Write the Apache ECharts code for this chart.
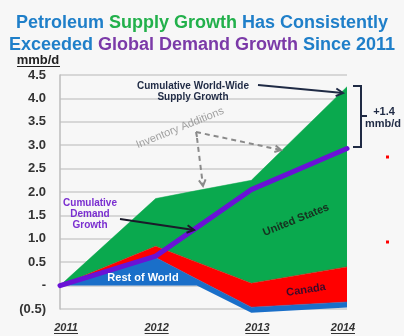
<!DOCTYPE html>
<html><head><meta charset="utf-8">
<script src="https://cdn.jsdelivr.net/npm/echarts@6/dist/echarts.min.js"></script>
<style>html,body{margin:0;padding:0;background:#f7f7f7}#c{width:404px;height:336px}</style>
</head><body><div id="c"></div>
<script>
// ---- data (mmb/d) ----
const years = [2011, 2012, 2012.43, 2013, 2014];
const yearTicks = [2011, 2012, 2013, 2014];
const restOfWorldBottom = [0, 0, 0, -0.58, -0.47];
const restOfWorldTop = [0, 0.60, 0.14, -0.46, -0.35];
const canadaTop = [0, 0.84, 0.50, 0.05, 0.40];
const supplyTotal = [0, 1.86, 2.03, 2.25, 4.25];
const demandYears = [2011, 2012, 2013, 2014];
const demandGrowth = [0, 0.63, 2.05, 2.93];
const yTickLabels = {'4.5':'4.5','4':'4.0','3.5':'3.5','3':'3.0','2.5':'2.5','2':'2.0','1.5':'1.5','1':'1.0','0.5':'0.5','0':'-','-0.5':'(0.5)'};

const FONT = 'Liberation Sans, Arial, sans-serif';
const labelShift = {2011: 6, 2012: 1, 2013: 6, 2014: -4};

// value first, year second (so the stack is applied to the value dimension)
const pair = arr => years.map((x, i) => [arr[i], x]);
const diff = (a, b) => years.map((x, i) => [+(a[i] - b[i]).toFixed(3), x]);

function arrow(x1, y1, x2, y2, color, w, dash, head) {
  const a = Math.atan2(y2 - y1, x2 - x1), h = head || 7, s = 0.5;
  return [
    {type: 'line', z: 20, shape: {x1, y1, x2, y2}, style: {stroke: color, lineWidth: w, lineDash: dash || null}},
    {type: 'polyline', z: 20, shape: {points: [[x2 - h * Math.cos(a - s), y2 - h * Math.sin(a - s)], [x2, y2], [x2 - h * Math.cos(a + s), y2 - h * Math.sin(a + s)]]},
     style: {stroke: color, lineWidth: w, fill: null}}
  ];
}
function txt(x, y, text, opts) {
  return Object.assign({type: 'text', x, y, z: 20, style: Object.assign({text, fontFamily: FONT, fontWeight: 'bold', fontSize: 10, align: 'center', verticalAlign: 'middle', fill: '#1f2a44'}, opts.style || {})}, opts.el || {});
}

const rich = {};
yearTicks.forEach(y => {
  const s = labelShift[y];
  rich['y' + y] = {fontFamily: FONT, fontWeight: 'bold', fontStyle: 'italic', fontSize: 11, color: '#333',
    padding: s >= 0 ? [0, 0, 0, 2 * s] : [0, -2 * s, 0, 0]};
});

const areaSeries = (name, data, color) => ({
  name, type: 'line', stack: 's', stackStrategy: 'all', data, encode: {x: 1, y: 0}, symbol: 'none', clip: false,
  lineStyle: {width: 0.5, color}, areaStyle: {color, opacity: 1}
});

const chart = echarts.init(document.getElementById('c'), null, {renderer: 'canvas'});
const option = {
  backgroundColor: '#f7f7f7',
  animation: false,
  title: {
    left: 'center', top: 7,
    text: '{b|Petroleum }{g|Supply Growth}{b| Has Consistently}\n{b|Exceeded }{p|Global Demand Growth}{b| Since 2011}',
    textStyle: {rich: {
      b: {color: '#1f7fc9', fontSize: 18, fontWeight: 'bold', fontFamily: FONT, lineHeight: 22},
      g: {color: '#22b04b', fontSize: 18, fontWeight: 'bold', fontFamily: FONT, lineHeight: 22},
      p: {color: '#7b3aa8', fontSize: 18, fontWeight: 'bold', fontFamily: FONT, lineHeight: 22}
    }}
  },
  grid: {left: 60, right: 57, top: 75, bottom: 27},
  xAxis: {
    type: 'value', min: 2011, max: 2014, interval: 1,
    axisLine: {show: false, onZero: false}, axisTick: {show: false}, splitLine: {show: false},
    axisLabel: {margin: 13, formatter: v => '{y' + v + '|' + v + '}', rich}
  },
  yAxis: {
    type: 'value', min: -0.5, max: 4.5, interval: 0.5,
    axisLine: {show: true, lineStyle: {color: '#bdbdbd', width: 1.5}},
    axisTick: {show: false},
    splitLine: {lineStyle: {color: '#cccccc', width: 1.5}},
    axisLabel: {margin: 14, color: '#333', fontFamily: FONT, fontWeight: 'bold', fontSize: 13,
      formatter: v => yTickLabels[String(+v.toFixed(1))]}
  },
  series: [
    {type: 'line', stack: 's', stackStrategy: 'all', data: pair(restOfWorldBottom), encode: {x: 1, y: 0}, symbol: 'none', silent: true, clip: false,
     lineStyle: {width: 0, opacity: 0}},
    areaSeries('Rest of World', diff(restOfWorldTop, restOfWorldBottom), '#1a6fc9'),
    areaSeries('Canada', diff(canadaTop, restOfWorldTop), '#ff0000'),
    areaSeries('United States', diff(supplyTotal, canadaTop), '#0aa94e'),
    {name: 'Cumulative Demand Growth', type: 'line', data: demandYears.map((x, i) => [x, demandGrowth[i]]), symbol: 'none', z: 5,
     lineStyle: {width: 5, color: '#6a12d6', cap: 'round', join: 'round'}}
  ]
};
chart.setOption(option);

// annotations
const navy = '#1f2a44';
const g = [];
g.push(txt(38, 60, 'mmb/d', {style: {fontSize: 13, fill: '#222'}}));
g.push({type: 'line', z: 20, shape: {x1: 17, y1: 66.5, x2: 60, y2: 66.5}, style: {stroke: '#222', lineWidth: 1}});
yearTicks.forEach(y => {
  const px = chart.convertToPixel({xAxisIndex: 0}, y) + labelShift[y];
  g.push({type: 'line', z: 20, shape: {x1: px - 12, y1: 333.5, x2: px + 12, y2: 333.5}, style: {stroke: '#333', lineWidth: 1}});
});
g.push(txt(193, 86, 'Cumulative World-Wide', {}));
g.push(txt(193, 97, 'Supply Growth', {}));
g.push(...arrow(258, 85, 343, 93, navy, 2, null, 8));
g.push({type: 'polyline', z: 20, shape: {points: [[353, 86], [361, 86], [361, 147], [353, 147]]}, style: {stroke: navy, lineWidth: 2, fill: null}});
g.push({type: 'line', z: 20, shape: {x1: 361, y1: 116, x2: 367, y2: 116}, style: {stroke: navy, lineWidth: 2}});
g.push(txt(384, 112, '+1.4', {style: {fontSize: 11}}));
g.push(txt(383, 124, 'mmb/d', {style: {fontSize: 11}}));
g.push({type: 'rect', z: 20, shape: {x: 386, y: 155.5, width: 3, height: 3}, style: {fill: '#ff0000'}});
g.push({type: 'rect', z: 20, shape: {x: 386, y: 240.5, width: 3, height: 3}, style: {fill: '#ff0000'}});
g.push(txt(180, 128, 'Inventory Additions', {style: {fontSize: 11, fontWeight: 'normal', fill: '#a0a0a0'}, el: {rotation: 22 * Math.PI / 180}}));
g.push({type: 'line', z: 20, shape: {x1: 197, y1: 137, x2: 196, y2: 132}, style: {stroke: '#8a8a8a', lineWidth: 2}});
g.push(...arrow(196, 132, 281, 150, '#8a8a8a', 2, [5, 4], 7));
g.push(...arrow(197, 138, 203, 186, '#8a8a8a', 2, [5, 4], 7));
g.push(txt(90, 203, 'Cumulative', {style: {fill: '#7a2fd0'}}));
g.push(txt(90, 214, 'Demand', {style: {fill: '#7a2fd0'}}));
g.push(txt(90, 225, 'Growth', {style: {fill: '#7a2fd0'}}));
g.push(...arrow(120, 219, 194, 230, '#1a1a2a', 2, null, 8));
g.push(txt(143, 278, 'Rest of World', {style: {fontSize: 11, fill: '#ffffff'}}));
g.push(txt(296, 220, 'United States', {style: {fontSize: 11, fill: '#17301f'}, el: {rotation: 22 * Math.PI / 180}}));
g.push(txt(306, 290, 'Canada', {style: {fontSize: 11, fill: '#3a0a2a'}, el: {rotation: 9 * Math.PI / 180}}));

chart.setOption({graphic: {elements: g}});
</script>
</body></html>
